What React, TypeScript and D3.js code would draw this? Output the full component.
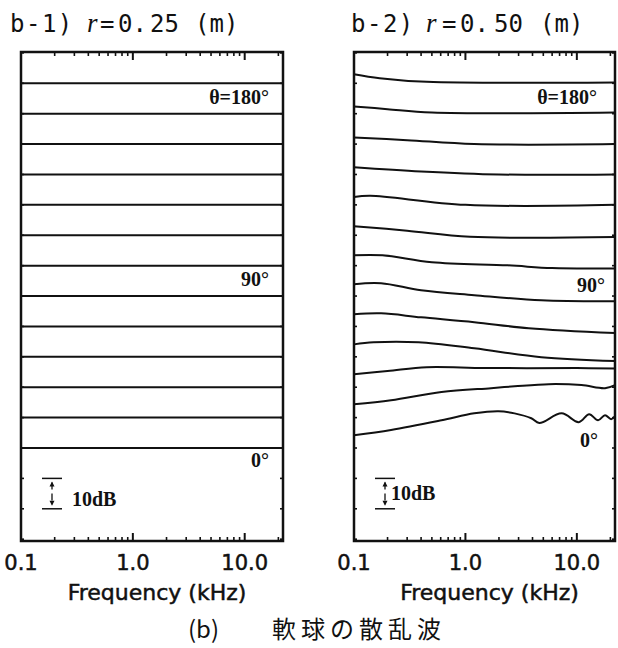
import React from "react";
import * as d3 from "d3";

// polar angle of each trace, top to bottom; traces are stacked 10 dB apart
const angles = [180, 165, 150, 135, 120, 105, 90, 75, 60, 45, 30, 15, 0];

// b-1) r = 0.25 m : every trace is flat over the band (dB re its own offset)
const b1Freqs = [0.1, 22];
const b1Levels = [0, 0];

// b-2) r = 0.50 m : [kHz, dB]
const b2_180 = [[0.1, 3.0], [0.17, 1.7], [0.45, 0.5], [22, 0.3]];
const b2_165 = [[0.1, 2.4], [0.2, 1.5], [0.5, 0.4], [22, 0.4]];
const b2_150 = [[0.1, 2.2], [0.3, 1.3], [1.2, 0], [22, 0]];
const b2_135 = [[0.1, 2.4], [0.4, 1.0], [2, 0], [22, 0]];
const b2_120 = [[0.1, 2.6], [0.14, 3.0], [1, 0], [22, 0]];
const b2_105 = [[0.1, 3.0], [0.3, 1.5], [1.1, -0.5], [22, -0.6]];
const b2_90 = [[0.1, 3.4], [0.18, 3.4], [0.5, 1.1], [2.4, 0.1], [6, -0.8], [22, -0.9]];
const b2_75 = [[0.1, 3.9], [0.175, 4.2], [0.4, 1.9], [1.2, 0.3], [4.8, -1.4], [22, -1.7]];
const b2_60 = [[0.1, 4.0], [0.175, 4.3], [0.4, 3.0], [1.2, 1.4], [3.7, -0.6], [22, -2.2]];
const b2_45 = [[0.1, 4.1], [0.15, 4.8], [0.38, 4.8], [1.2, 2.8], [4.8, -0.1], [22, -1.4]];
const b2_30 = [[0.1, 4.3], [0.2, 5.3], [0.45, 6.6], [1.5, 6.3], [10, 6.3], [22, 6.2]];
const b2_15 = [[0.1, 4.4], [0.215, 5.7], [0.61, 8.4], [1.7, 9.7], [2.76, 10.3], [5.6, 11.0], [11, 10.7], [17.9, 9.7], [22, 10.7]];
const b2_0 = [[0.1, 4.2], [0.215, 5.9], [0.61, 9.1], [1.2, 11.4], [1.98, 12.1], [2.76, 11.4], [3.9, 9.8], [4.6, 8.2], [7.3, 11.4], [10.4, 8.5], [12.9, 11.1], [15.5, 9.1], [17.9, 10.8], [20.3, 9.5], [22, 10.5]];

const b2Curves = [b2_180, b2_165, b2_150, b2_135, b2_120, b2_105, b2_90, b2_75, b2_60, b2_45, b2_30, b2_15, b2_0];
const b1Curves = angles.map(() => b1Freqs.map((f, i) => [f, b1Levels[i]]));

const majorTicks = [1, 10];
const minorTicks = [0.2, 0.3, 0.4, 0.5, 0.6, 0.7, 0.8, 0.9, 2, 3, 4, 5, 6, 7, 8, 9, 20];
const tickValues = [0.1, 1, 10];
const tickLabels = ["0.1", "1.0", "10.0"];
const dbTicks = d3.range(-30, 131, 10);

const TOP = 52;
const BOTTOM = 541;

type Label = { angle: number; text: string; dx: number; dy: number };

function Panel({ left, right, curves, labels, scaleTextDx, scaleTextY }: {
  left: number; right: number; curves: number[][][]; labels: Label[];
  scaleTextDx: number; scaleTextY: number;
}) {
  const x = d3.scaleLog().domain([0.1, 22]).range([left, right]);
  const y = d3.scaleLinear().domain([-30.6, 130.3]).range([BOTTOM, TOP]);

  const line = d3.line<number[]>()
    .x(d => x(d[0]))
    .y(d => y(d[1]))
    .curve(d3.curveCatmullRom.alpha(0.5));

  const barX0 = left + 21, barX1 = left + 41, barXm = left + 31;
  const barTop = y(-10), barBot = y(-20);

  return (
    <g>
      {curves.map((c, i) => {
        const off = (angles[i] / 15) * 10;
        return (
          <path key={i} d={line(c.map(p => [p[0], p[1] + off])) || ""}
            fill="none" stroke="#111" strokeWidth={2} />
        );
      })}
      {labels.map((l, i) => {
        const k = angles.indexOf(l.angle);
        const last = curves[k][curves[k].length - 1];
        return (
          <text key={i} x={right + l.dx} y={y(last[1] + (l.angle / 15) * 10) + l.dy}
            textAnchor="end" fontFamily="Liberation Serif" fontWeight="bold" fontSize={20} fill="#111">
            {l.text}
          </text>
        );
      })}

      {/* 10 dB scale bar */}
      <line x1={barX0} x2={barX1} y1={barTop} y2={barTop} stroke="#111" strokeWidth={1.5} />
      <line x1={barX0} x2={barX1} y1={barBot} y2={barBot} stroke="#111" strokeWidth={1.5} />
      <line x1={barXm} x2={barXm} y1={barTop + 4} y2={barBot - 4} stroke="#111" strokeWidth={1.3} strokeDasharray="7,4" />
      <path d={`M${barXm - 2.5},${barTop + 8}L${barXm},${barTop + 3}L${barXm + 2.5},${barTop + 8}Z`} fill="#111" />
      <path d={`M${barXm - 2.5},${barBot - 8}L${barXm},${barBot - 3}L${barXm + 2.5},${barBot - 8}Z`} fill="#111" />
      <text x={left + scaleTextDx} y={scaleTextY} fontFamily="Liberation Serif" fontWeight="bold" fontSize={20} fill="#111">10dB</text>

      {/* frame and inward ticks */}
      <rect x={left} y={TOP} width={right - left} height={BOTTOM - TOP} fill="none" stroke="#111" strokeWidth={2.5} />
      {majorTicks.map(t => (
        <g key={"M" + t}>
          <line x1={x(t)} x2={x(t)} y1={TOP} y2={TOP + 8} stroke="#111" strokeWidth={2} />
          <line x1={x(t)} x2={x(t)} y1={BOTTOM} y2={BOTTOM - 8} stroke="#111" strokeWidth={2} />
        </g>
      ))}
      {minorTicks.map(t => (
        <g key={"m" + t}>
          <line x1={x(t)} x2={x(t)} y1={TOP} y2={TOP + 4} stroke="#111" strokeWidth={1.6} />
          <line x1={x(t)} x2={x(t)} y1={BOTTOM} y2={BOTTOM - 4} stroke="#111" strokeWidth={1.6} />
        </g>
      ))}
      {dbTicks.map(t => (
        <g key={"y" + t}>
          <line x1={left} x2={left + 3} y1={y(t)} y2={y(t)} stroke="#111" strokeWidth={1.6} />
          <line x1={right} x2={right - 3} y1={y(t)} y2={y(t)} stroke="#111" strokeWidth={1.6} />
        </g>
      ))}

      {tickValues.map((t, i) => (
        <text key={"t" + t} x={x(t)} y={570} textAnchor="middle" stroke="#111" strokeWidth={0.5}
          fontFamily="DejaVu Sans" fontSize={21} fill="#111">{tickLabels[i]}</text>
      ))}
      <text x={(left + right) / 2 + 5} y={600} textAnchor="middle" stroke="#111" strokeWidth={0.5}
        fontFamily="DejaVu Sans" fontSize={22} fill="#111">Frequency (kHz)</text>
    </g>
  );
}

function Title({ xs, tag, value }: { xs: number[]; tag: string; value: string }) {
  const mono = { fontFamily: "DejaVu Sans Mono", fontSize: 24, fill: "#111" };
  return (
    <g>
      <text x={xs[0]} y={32} {...mono} letterSpacing={1.5}>{tag}</text>
      <text x={xs[1]} y={32} fontFamily="Liberation Serif" fontStyle="italic" fontSize={27} fill="#111">r</text>
      <text x={xs[2]} y={32} {...mono}>=</text>
      <text x={xs[3]} y={32} {...mono}>0.</text>
      <text x={xs[4]} y={32} {...mono}>{value}</text>
      <text x={xs[5]} y={32} {...mono}>(m)</text>
    </g>
  );
}

export default function App() {
  return (
    <svg width={618} height={648} style={{ position: "absolute", left: 0, top: 0, background: "#fff" }}>
      <rect width={618} height={648} fill="#fff" />
      <Title xs={[10, 87, 100, 118, 150, 195]} tag="b-1)" value="25" />
      <Title xs={[351, 426, 442, 460, 494, 540]} tag="b-2)" value="50" />
      <Panel left={21} right={283} curves={b1Curves}
        labels={[
          { angle: 180, text: "θ=180°", dx: -14, dy: 21 },
          { angle: 90, text: "90°", dx: -14, dy: 20 },
          { angle: 0, text: "0°", dx: -14, dy: 19 },
        ]}
        scaleTextDx={51} scaleTextY={506} />
      <Panel left={354} right={615} curves={b2Curves}
        labels={[
          { angle: 180, text: "θ=180°", dx: -18, dy: 22 },
          { angle: 90, text: "90°", dx: -10, dy: 24 },
          { angle: 0, text: "0°", dx: -17, dy: 31 },
        ]}
        scaleTextDx={37} scaleTextY={500} />
      <text x={188} y={638} fontFamily="Noto Sans CJK JP" fontSize={24} fill="#111">(b)</text>
      <text x={272} y={638} fontFamily="Noto Sans CJK JP" fontSize={24} letterSpacing={5} fill="#111">軟球の散乱波</text>
    </svg>
  );
}
